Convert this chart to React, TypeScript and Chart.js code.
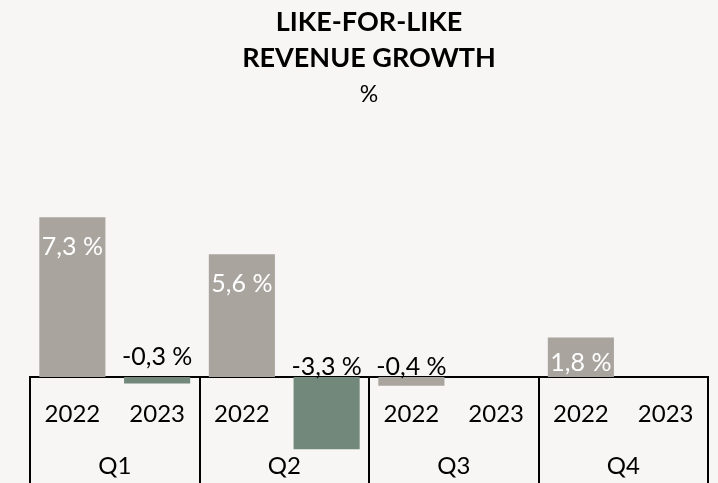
import React, { useEffect, useRef } from "react";
import { Chart, registerables } from "chart.js";

Chart.register(...registerables);

// ---- data ----
const quarters = ["Q1", "Q2", "Q3", "Q4"];
const years = ["2022", "2023"];
const values2022: (number | null)[] = [7.3, 5.6, -0.4, 1.8];
const values2023: (number | null)[] = [-0.3, -3.3, null, null];
const titleLines = ["LIKE-FOR-LIKE", "REVENUE GROWTH"];
const subtitleText = "%";

// ---- styles ----
const BG = "#f7f6f4";
const GREY = "#a9a49e";
const GREEN = "#72887a";
const FONT = "Lato";
const LABEL_SIZE = 24;

const yearLabels = quarters.flatMap(() => years);
const data2022 = quarters.flatMap((_, i) => [values2022[i], null]);
const data2023 = quarters.flatMap((_, i) => [null, values2023[i]]);

const fmt = (v: number) => v.toFixed(1).replace(".", ",") + " %";

const bgPlugin = {
  id: "bgFill",
  beforeDraw(chart: any) {
    const { ctx, width, height } = chart;
    ctx.save();
    ctx.fillStyle = BG;
    ctx.fillRect(0, 0, width, height);
    ctx.restore();
  },
};

const valueLabels = {
  id: "valueLabels",
  afterDatasetsDraw(chart: any) {
    const ctx = chart.ctx;
    ctx.save();
    ctx.font = `${LABEL_SIZE + 1}px ${FONT}`;
    ctx.textAlign = "center";
    chart.data.datasets.forEach((ds: any, di: number) => {
      const meta = chart.getDatasetMeta(di);
      meta.data.forEach((bar: any, i: number) => {
        const v = ds.data[i];
        if (v == null) return;
        const { x, y, base } = bar.getProps(["x", "y", "base"], true);
        const text = fmt(v);
        if (v >= 0) {
          ctx.fillStyle = "#ffffff";
          ctx.textBaseline = "middle";
          ctx.fillText(text, x, Math.min(y + 30, base - 14));
        } else {
          ctx.fillStyle = "#000000";
          ctx.textBaseline = "alphabetic";
          const lift = Math.abs(v) < 0.35 && di === 1 ? 12 : 2;
          ctx.fillText(text, x, base - lift);
        }
      });
    });
    ctx.restore();
  },
};

export default function App() {
  const ref = useRef<HTMLCanvasElement | null>(null);

  useEffect(() => {
    document.body.style.margin = "0";
    document.body.style.background = BG;
    const canvas = ref.current;
    if (!canvas) return;
    const chart = new Chart(canvas, {
      type: "bar",
      data: {
        labels: yearLabels,
        datasets: [
          {
            label: "2022",
            data: data2022,
            backgroundColor: GREY,
            grouped: false,
            barPercentage: 0.78,
            categoryPercentage: 1,
          } as any,
          {
            label: "2023",
            data: data2023,
            backgroundColor: GREEN,
            grouped: false,
            barPercentage: 0.78,
            categoryPercentage: 1,
          } as any,
        ],
      },
      options: {
        animation: false,
        responsive: false,
        maintainAspectRatio: false,
        layout: { padding: { left: 30, right: 10, top: 0, bottom: 0 } },
        plugins: {
          legend: { display: false },
          tooltip: { enabled: false },
          title: {
            display: true,
            text: titleLines,
            fullSize: false,
            color: "#000",
            font: { family: FONT, size: 27, weight: "bold", lineHeight: 36 / 27 },
            padding: { top: 4, bottom: 0 },
          },
          subtitle: {
            display: true,
            text: subtitleText,
            fullSize: false,
            color: "#000",
            font: { family: FONT, size: 23, lineHeight: 24 / 23 },
            padding: { top: 7, bottom: 51 },
          },
        },
        scales: {
          y: {
            display: false,
            min: -4.84,
            max: 10,
          },
          x: {
            type: "category",
            position: { y: 0 } as any,
            offset: true,
            z: 1,
            grid: { display: false, drawTicks: false, tickLength: 0 },
            border: { display: true, color: "#000", width: 2 },
            ticks: {
              color: "#000",
              font: { family: FONT, size: LABEL_SIZE },
              padding: 23,
              autoSkip: false,
              maxRotation: 0,
            },
          },
          xq: {
            type: "category",
            labels: quarters,
            position: { y: 0 } as any,
            offset: true,
            z: 1,
            grid: {
              display: true,
              offset: true,
              drawOnChartArea: false,
              drawTicks: true,
              tickLength: 106,
              color: "#000",
              lineWidth: 2,
            },
            border: { display: false },
            ticks: {
              color: "#000",
              font: { family: FONT, size: LABEL_SIZE },
              padding: -31,
              autoSkip: false,
              maxRotation: 0,
            },
          },
        },
      } as any,
      plugins: [bgPlugin, valueLabels],
    });
    return () => chart.destroy();
  }, []);

  return (
    <div style={{ width: 718, height: 483, background: BG }}>
      <canvas ref={ref} width={718} height={483} style={{ display: "block" }} />
    </div>
  );
}
